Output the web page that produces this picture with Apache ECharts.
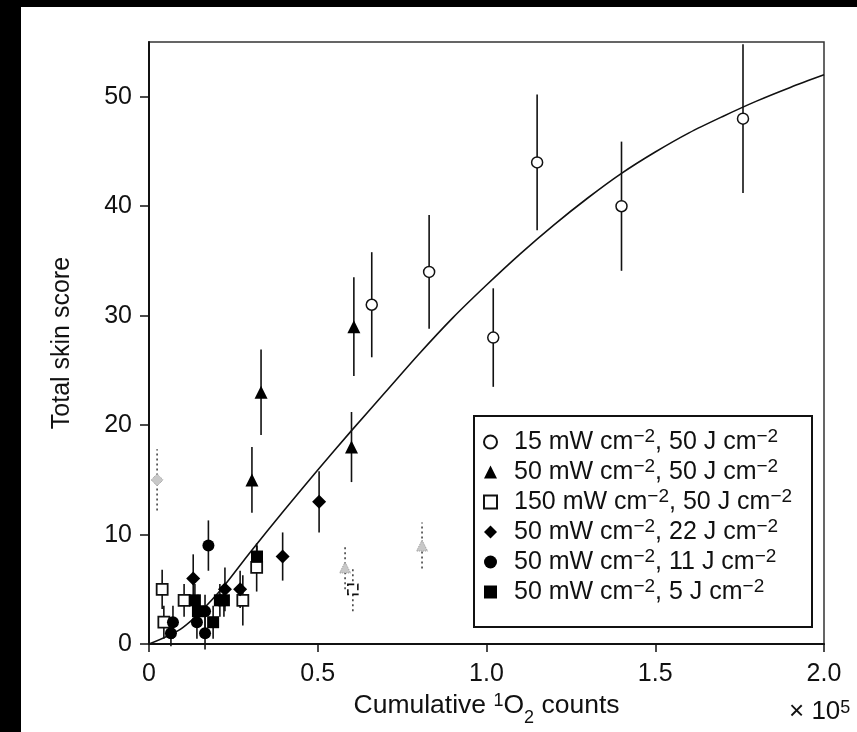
<!DOCTYPE html>
<html><head><meta charset="utf-8">
<script src="https://cdn.jsdelivr.net/npm/echarts@6/dist/echarts.min.js"></script>
<style>html,body{margin:0;padding:0;background:#fff}#c{width:857px;height:732px}</style>
</head><body><div id="c"></div>
<script>
// Axis ticks
const xTicks = [0, 0.5, 1.0, 1.5, 2.0];
const yTicks = [0, 10, 20, 30, 40, 50];

// Data points: [cumulative 1O2 counts (x10^5), total skin score, error]
const open15mW50J = [[0.66, 31, 4.8], [0.83, 34, 5.2], [1.02, 28, 4.5], [1.15, 44, 6.2], [1.40, 40, 5.9], [1.76, 48, 6.8]];
const tri50mW50J = [[0.305, 15, 3.0], [0.332, 23, 3.9], [0.600, 18, 3.2], [0.607, 29, 4.5]];
const sq150mW50J = [[0.039, 5, 1.8], [0.044, 2, 1.5], [0.104, 4, 1.5], [0.278, 4, 2.3], [0.319, 7, 2.2]];
const dia50mW22J = [[0.131, 6, 2.2], [0.225, 5, 2.0], [0.270, 5, 1.7], [0.396, 8, 2.2], [0.504, 13, 2.8]];
const circ50mW11J = [[0.071, 2, 1.5], [0.065, 1, 1.2], [0.142, 2, 1.5], [0.166, 3, 1.5], [0.166, 1, 1.5], [0.176, 9, 2.3]];
const sq50mW5J = [[0.136, 4, 1.5], [0.145, 3, 1.5], [0.190, 2, 1.5], [0.210, 4, 1.5], [0.222, 4, 1.5], [0.320, 8, 1.0]];
// excluded points (grey, dotted error bars)
const exclDiamond = [[0.024, 15, 2.8]];
const exclTriangle = [[0.581, 7, 2.0], [0.809, 9, 2.1]];
const exclSquare = [[0.604, 5, 2.0]];

// Fitted curve
const fitX = [0, 0.1, 0.2, 0.3, 0.4, 0.5, 0.6, 0.7, 0.8, 0.9, 1.0, 1.1, 1.2, 1.3, 1.4, 1.5, 1.6, 1.7, 1.8, 1.9, 2.0];
const fitY = [0, 1.5, 4.5, 8.4, 12.2, 15.9, 19.5, 23.0, 26.5, 29.8, 32.8, 35.65, 38.3, 40.75, 43.0, 44.95, 46.7, 48.2, 49.6, 50.85, 52.0];

const legendLabels = {
  a: '15 mW cm{sup|\u22122}, 50 J cm{sup|\u22122}',
  b: '50 mW cm{sup|\u22122}, 50 J cm{sup|\u22122}',
  c: '150 mW cm{sup|\u22122}, 50 J cm{sup|\u22122}',
  d: '50 mW cm{sup|\u22122}, 22 J cm{sup|\u22122}',
  e: '50 mW cm{sup|\u22122}, 11 J cm{sup|\u22122}',
  f: '50 mW cm{sup|\u22122}, 5 J cm{sup|\u22122}'
};

const FONT = '"Liberation Sans", Arial, Helvetica, sans-serif';

function errSeries(arr, dashed) {
  return {
    type: 'custom', silent: true, z: 2,
    data: arr.map(d => [d[0], d[1] - d[2], d[1] + d[2]]),
    renderItem: function (params, api) {
      const p1 = api.coord([api.value(0), api.value(1)]);
      const p2 = api.coord([api.value(0), api.value(2)]);
      return { type: 'line', shape: { x1: p1[0], y1: p1[1], x2: p2[0], y2: p2[1] },
        style: { stroke: dashed ? '#444' : '#111', lineWidth: 1.6, lineDash: dashed ? [2, 3] : null } };
    }
  };
}
function pts(arr) { return arr.map(d => [d[0], d[1]]); }
function scat(name, arr, symbol, size, style) {
  return { type: 'scatter', name: name, data: pts(arr), symbol: symbol, symbolSize: size, z: 5,
    itemStyle: Object.assign({ opacity: 1 }, style), emphasis: { disabled: true } };
}

const chart = echarts.init(document.getElementById('c'), null, { renderer: 'canvas' });
chart.setOption({
  animation: false,
  backgroundColor: '#fff',
  grid: { left: 149, top: 42, right: 33, bottom: 86, show: true, borderColor: '#333', borderWidth: 1.5 },
  xAxis: {
    type: 'value', min: 0, max: 2, interval: 0.5,
    axisLine: { show: true, onZero: false, lineStyle: { color: '#111', width: 2 } },
    axisTick: { show: true, length: 8, lineStyle: { color: '#111', width: 1.5 }, customValues: xTicks },
    axisLabel: { customValues: xTicks, margin: 18, color: '#111', fontSize: 25, fontFamily: FONT,
      formatter: v => (v === 0 ? '0' : v.toFixed(1)) },
    splitLine: { show: false },
    name: 'Cumulative {sup|1}O{sub|2} counts', nameLocation: 'middle', nameGap: 44,
    nameTextStyle: { color: '#111', fontSize: 26.5, fontFamily: FONT,
      rich: { sup: { fontSize: 18, fontFamily: FONT, verticalAlign: 'top', lineHeight: 18, color: '#111' },
              sub: { fontSize: 18, fontFamily: FONT, verticalAlign: 'bottom', lineHeight: 18, padding: [0, 0, -8, 0], color: '#111' } } }
  },
  yAxis: {
    type: 'value', min: 0, max: 55,
    axisLine: { show: true, onZero: false, lineStyle: { color: '#111', width: 2 } },
    axisTick: { show: true, length: 9, lineStyle: { color: '#111', width: 1.5 }, customValues: yTicks },
    axisLabel: { customValues: yTicks, margin: 17, color: '#111', fontSize: 25, fontFamily: FONT },
    splitLine: { show: false },
    name: 'Total skin score', nameLocation: 'middle', nameGap: 74, nameRotate: 90,
    nameTextStyle: { color: '#111', fontSize: 25, fontFamily: FONT }
  },
  legend: {
    orient: 'vertical', left: 483, top: 427, itemWidth: 13, itemHeight: 13, itemGap: 0,
    padding: 0, selectedMode: false,
    data: ['a', 'b', 'c', 'd', 'e', 'f'],
    formatter: name => legendLabels[name],
    textStyle: { fontSize: 25, lineHeight: 30, color: '#111', fontFamily: FONT, padding: [0, 0, 0, 12],
      rich: { sup: { fontSize: 19, lineHeight: 17, verticalAlign: 'top', color: '#111', fontFamily: FONT } } }
  },
  graphic: [
    { type: 'rect', z: 100, shape: { x: 0, y: 0, width: 857, height: 7 }, style: { fill: '#000' } },
    { type: 'rect', z: 100, shape: { x: 0, y: 0, width: 21, height: 732 }, style: { fill: '#000' } },
    { type: 'rect', z: 0, shape: { x: 474, y: 416, width: 338, height: 211 }, style: { fill: '#fff', stroke: '#111', lineWidth: 2 } },
    { type: 'text', left: 789, top: 699, style: { text: '\u00d7 10{sup|5}', fill: '#111', font: '26px ' + FONT,
      rich: { sup: { fontSize: 18, verticalAlign: 'top', lineHeight: 17, fill: '#111', fontFamily: FONT } } } }
  ],
  series: [
    { type: 'line', name: 'fit', data: fitX.map((x, i) => [x, fitY[i]]), smooth: 0.3, showSymbol: false, silent: true,
      lineStyle: { color: '#111', width: 1.6 }, z: 3 },
    errSeries(open15mW50J), errSeries(tri50mW50J), errSeries(sq150mW50J), errSeries(dia50mW22J),
    errSeries(circ50mW11J), errSeries(sq50mW5J),
    errSeries(exclDiamond, true), errSeries(exclTriangle, true), errSeries(exclSquare, true),
    scat('excl1', exclDiamond, 'diamond', 12, { color: '#c8c8c8', borderColor: '#999', borderWidth: 1, borderType: 'dotted' }),
    scat('excl2', exclTriangle, 'triangle', 11, { color: '#c8c8c8', borderColor: '#999', borderWidth: 1, borderType: 'dotted' }),
    scat('excl3', exclSquare, 'rect', 10, { color: '#fff', borderColor: '#111', borderWidth: 1.6, borderType: 'dashed' }),
    scat('a', open15mW50J, 'circle', 11, { color: '#fff', borderColor: '#111', borderWidth: 1.5 }),
    scat('b', tri50mW50J, 'triangle', 13, { color: '#000' }),
    scat('c', sq150mW50J, 'rect', 11, { color: '#fff', borderColor: '#111', borderWidth: 1.8 }),
    scat('d', dia50mW22J, 'diamond', 14, { color: '#000' }),
    scat('e', circ50mW11J, 'circle', 12, { color: '#000' }),
    scat('f', sq50mW5J, 'rect', 12, { color: '#000' })
  ]
});
</script></body></html>
